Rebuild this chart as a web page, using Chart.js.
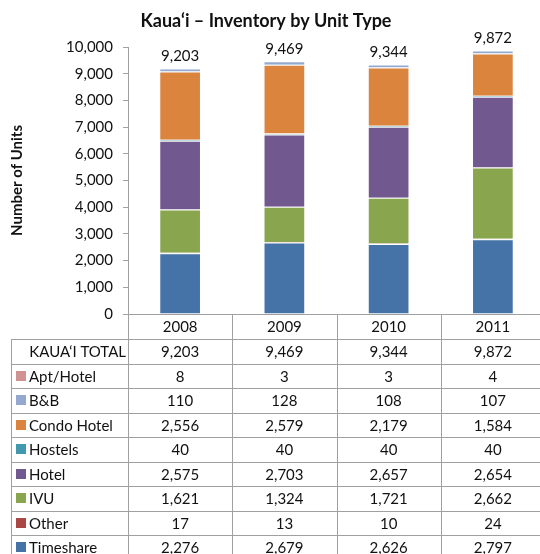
<!DOCTYPE html>
<html>
<head>
<meta charset="utf-8">
<script src="https://cdn.jsdelivr.net/npm/chart.js@4.4.1/dist/chart.umd.min.js"></script>
<style>
html,body{margin:0;padding:0;background:#fff;overflow:hidden;width:540px;height:554px;}
canvas{display:block;}
</style>
</head>
<body>
<canvas id="c" width="548" height="554"></canvas>
<script>
const years = ['2008', '2009', '2010', '2011'];
const totals = [9203, 9469, 9344, 9872];
const aptHotel = [8, 3, 3, 4];
const bnb = [110, 128, 108, 107];
const condoHotel = [2556, 2579, 2179, 1584];
const hostels = [40, 40, 40, 40];
const hotel = [2575, 2703, 2657, 2654];
const ivu = [1621, 1324, 1721, 2662];
const other = [17, 13, 10, 24];
const timeshare = [2276, 2679, 2626, 2797];
const yTicks = [0, 1000, 2000, 3000, 4000, 5000, 6000, 7000, 8000, 9000, 10000];

const FONT = 'Lato, "DejaVu Sans", sans-serif';
const TXT = '#111';

// table order (top to bottom)
const series = [
  {label: 'Apt/Hotel', data: aptHotel, color: '#D19392'},
  {label: 'B&B', data: bnb, color: '#93A9CF'},
  {label: 'Condo Hotel', data: condoHotel, color: '#DB843D'},
  {label: 'Hostels', data: hostels, color: '#4198AF'},
  {label: 'Hotel', data: hotel, color: '#71588F'},
  {label: 'IVU', data: ivu, color: '#89A54E'},
  {label: 'Other', data: other, color: '#AA4643'},
  {label: 'Timeshare', data: timeshare, color: '#4572A7'}
];

const fmt = v => v.toLocaleString('en-US');

// stack order: bottom is Timeshare
const datasets = series.slice().reverse().map(s => ({
  label: s.label,
  data: s.data,
  backgroundColor: s.color,
  borderColor: 'rgba(255,255,255,0.45)',
  borderWidth: 1,
  barPercentage: 0.4,
  categoryPercentage: 1.0,
  stack: 's'
}));

const tablePlugin = {
  id: 'tablePlugin',
  afterDraw(chart) {
    const ctx = chart.ctx;
    const x = chart.scales.x;
    const y = chart.scales.y;
    const area = chart.chartArea;
    const top = area.bottom;
    const headH = 25;
    const rowH = 24.5;
    const tblTop = top + headH;
    const leftX = 11;
    const nRows = 1 + series.length;
    const bottom = tblTop + nRows * rowH;
    const colW = (area.right - area.left) / years.length;
    ctx.save();
    // total labels above bars
    ctx.fillStyle = TXT;
    ctx.font = '15px ' + FONT;
    ctx.textAlign = 'center';
    ctx.textBaseline = 'bottom';
    years.forEach((yr, i) => {
      ctx.fillText(fmt(totals[i]), x.getPixelForValue(i), y.getPixelForValue(totals[i]) - 5);
    });
    // grid lines
    ctx.strokeStyle = '#a0a0a0';
    ctx.lineWidth = 1;
    ctx.beginPath();
    for (let i = 0; i <= years.length; i++) {
      const vx = Math.round(x.getPixelForValue(i) - colW / 2) + 0.5;
      ctx.moveTo(vx, top);
      ctx.lineTo(vx, bottom);
    }
    ctx.moveTo(leftX + 0.5, tblTop);
    ctx.lineTo(leftX + 0.5, bottom);
    for (let r = 0; r <= nRows; r++) {
      const hy = Math.round(tblTop + r * rowH) + 0.5;
      ctx.moveTo(leftX, hy);
      ctx.lineTo(area.right, hy);
    }
    ctx.stroke();
    // header
    ctx.fillStyle = TXT;
    ctx.font = '15px ' + FONT;
    ctx.textBaseline = 'middle';
    ctx.textAlign = 'center';
    years.forEach((yr, i) => ctx.fillText(yr, x.getPixelForValue(i), top + headH / 2 + 1));
    // total row
    let cy = tblTop + rowH / 2 + 1;
    ctx.textAlign = 'right';
    ctx.fillText('KAUA\u2018I TOTAL', area.left - 2, cy);
    ctx.textAlign = 'center';
    totals.forEach((v, i) => ctx.fillText(fmt(v), x.getPixelForValue(i), cy));
    // series rows
    series.forEach((s, r) => {
      const ry = tblTop + (r + 1) * rowH + rowH / 2 + 1;
      ctx.fillStyle = s.color;
      ctx.fillRect(16, Math.round(ry - 6), 10, 10);
      ctx.fillStyle = TXT;
      ctx.textAlign = 'left';
      ctx.fillText(s.label, 29, ry);
      ctx.textAlign = 'center';
      s.data.forEach((v, i) => ctx.fillText(fmt(v), x.getPixelForValue(i), ry));
    });
    // title
    ctx.font = 'bold 18px ' + FONT;
    ctx.textAlign = 'center';
    ctx.fillText('Kaua\u2018i \u2013 Inventory by Unit Type', 266, 21);
    ctx.restore();
  }
};

new Chart(document.getElementById('c'), {
  type: 'bar',
  data: {labels: years, datasets},
  options: {
    responsive: false,
    animation: false,
    layout: {padding: {top: 47, right: 3, left: 0, bottom: 0}},
    plugins: {legend: {display: false}, title: {display: false}, tooltip: {enabled: false}},
    scales: {
      x: {
        stacked: true,
        grid: {display: false},
        border: {display: true, color: '#a0a0a0'},
        ticks: {display: false},
        afterFit: s => { s.height = 240; }
      },
      y: {
        stacked: true,
        min: 0,
        max: 10000,
        afterBuildTicks: s => { s.ticks = yTicks.map(v => ({value: v})); },
        ticks: {
          font: {family: FONT, size: 15},
          color: TXT,
          padding: 10,
          callback: v => fmt(v)
        },
        grid: {drawOnChartArea: false, drawTicks: true, tickLength: 5, color: '#a0a0a0'},
        border: {display: true, color: '#a0a0a0'},
        title: {
          display: true,
          text: 'Number of Units',
          font: {family: FONT, size: 15, weight: 'bold'},
          color: TXT,
          padding: {top: 8, bottom: 0}
        },
        afterFit: s => { s.width = 128; }
      }
    }
  },
  plugins: [tablePlugin]
});
</script>
</body>
</html>
